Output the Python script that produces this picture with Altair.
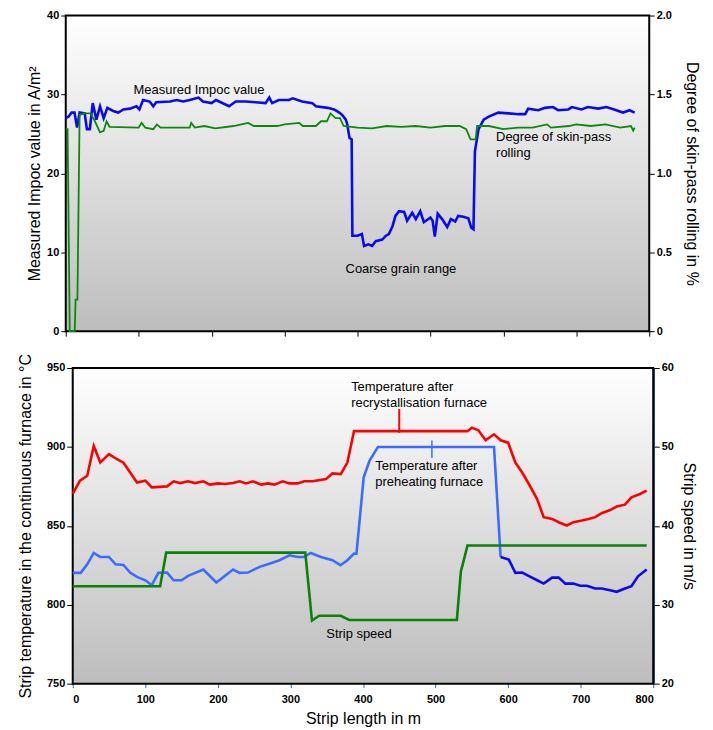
import altair as alt
import pandas as pd

FONT = "Liberation Sans"

# ---------------- top panel data ----------------
impoc_m = [0, 4, 8, 12, 15.5, 19, 26, 29, 33, 37, 42, 47, 52, 57, 65, 72, 79, 88, 97, 101,
           106, 115, 120, 124, 143, 152, 161, 170, 182, 188, 200, 206, 224, 233, 247, 260,
           274, 279, 283, 292, 306, 311, 324, 338, 343, 359, 368, 375, 379, 384, 386, 389,
           392, 393, 400, 406, 409, 415, 420, 425, 434, 439, 443, 448, 452, 457, 464, 468,
           475, 480, 486, 491, 500, 503, 506, 510, 516, 523, 528, 534, 538, 545, 552, 556,
           559, 561, 566, 573, 580, 593, 607, 621, 630, 634, 648, 657, 668, 675, 689, 694,
           707, 716, 730, 741, 752, 764, 773, 780]
impoc_v = [27.0, 27.2, 27.7, 27.7, 25.8, 27.7, 27.6, 25.6, 25.6, 28.9, 26.8, 28.5, 27.0, 28.3,
           27.9, 27.7, 28.1, 28.2, 28.5, 28.1, 29.3, 29.1, 28.5, 29.0, 29.1, 29.3, 29.1, 29.3,
           29.6, 29.1, 28.9, 29.3, 28.5, 29.1, 29.1, 29.0, 28.9, 29.6, 28.9, 29.3, 29.3, 29.5,
           29.1, 28.9, 28.5, 28.3, 28.1, 27.7, 27.4, 26.8, 26.2, 24.5, 24.3, 12.1, 12.1, 12.3,
           10.8, 11.0, 10.8, 11.4, 11.6, 12.1, 12.3, 13.3, 14.6, 15.2, 15.1, 14.0, 15.0, 14.2,
           15.2, 13.8, 14.4, 14.0, 12.0, 14.9, 14.2, 13.2, 14.2, 13.9, 14.6, 14.5, 14.3, 13.1,
           12.9, 22.8, 25.6, 26.8, 27.2, 27.7, 27.6, 27.5, 27.5, 28.2, 28.0, 28.3, 28.4, 28.0,
           28.1, 28.4, 28.1, 28.4, 28.2, 28.4, 28.1, 27.7, 28.0, 27.7]

skin_m = [0, 2.5, 5.5, 12.3, 13.5, 16, 19, 25, 34, 40, 47, 52, 56, 60, 100, 104, 109, 120,
          125, 130, 170, 172, 177, 190, 205, 230, 250, 258, 290, 300, 320, 325, 343, 350,
          358, 363, 370, 376, 381, 400, 420, 440, 460, 480, 500, 520, 540, 549, 555, 562,
          564, 580, 600, 620, 640, 660, 665, 690, 700, 720, 740, 760, 775, 778, 780]
skin_v = [1.28, 1.28, 0.0, 0.0, 0.2, 0.2, 1.37, 1.38, 1.38, 1.33, 1.26, 1.27, 1.33, 1.295,
          1.29, 1.32, 1.29, 1.28, 1.31, 1.29, 1.29, 1.32, 1.29, 1.30, 1.285, 1.30, 1.32, 1.30,
          1.30, 1.31, 1.32, 1.30, 1.30, 1.33, 1.33, 1.38, 1.35, 1.35, 1.30, 1.29, 1.285, 1.30,
          1.295, 1.30, 1.29, 1.30, 1.30, 1.28, 1.215, 1.215, 1.30, 1.30, 1.28, 1.29, 1.29,
          1.31, 1.29, 1.30, 1.31, 1.30, 1.31, 1.29, 1.30, 1.27, 1.29]

# ---------------- bottom panel data ----------------
recr_m = [0, 10, 20, 29, 38, 50, 61, 70, 88.6, 100, 109, 130, 139, 148, 159, 168.5, 180, 189,
          200.5, 209.6, 221, 230, 239, 248.4, 259.8, 269, 278, 289.5, 298.6, 310, 319, 330.6,
          349, 358, 369.4, 378.5, 387.7, 399, 544, 550, 559, 569, 580.6, 589.7, 600, 610,
          619.4, 628.6, 640, 649, 660.6, 669.7, 681, 690, 701.7, 711, 720, 729, 740.6, 749.7,
          761, 770, 781.7, 791]
recr_t = [870.2, 878.6, 881.7, 900.6, 890.1, 895.4, 892.2, 890.0, 877.5, 878.6, 874.4, 875.0,
          878.2, 877.1, 878.2, 877.1, 878.2, 876.1, 876.9, 876.5, 877.1, 878.2, 876.9, 878.2,
          876.1, 876.9, 876.1, 878.2, 876.9, 876.9, 878.2, 878.2, 879.6, 883.2, 882.8, 890.1,
          910.1, 910.0, 910.0, 912.2, 910.5, 904.2, 908.0, 904.2, 902.7, 890.1, 883.8, 876.5,
          867.0, 855.5, 854.4, 852.3, 850.2, 852.3, 853.4, 854.4, 855.5, 858.0, 860.0, 862.2,
          863.4, 868.0, 870.2, 872.3]

pre_m = [0, 11, 20, 29, 38, 50, 59, 70, 79, 88.6, 100, 109, 118, 130, 139, 150, 159, 180, 198,
         221, 230, 241.6, 257.5, 271, 285, 298.6, 310, 319, 328, 342, 358, 369, 378.5, 387.7,
         391, 401, 409, 420.6, 580.6, 589.7]
pre_t = [820.2, 820.2, 825.6, 832.8, 830.3, 830.3, 825.6, 825.2, 820.4, 817.6, 815.5, 812.4,
         820.2, 820.4, 815.5, 815.5, 818.3, 822.3, 814.1, 822.3, 820.2, 820.4, 824.0, 826.0,
         828.2, 831.3, 830.3, 830.3, 832.8, 830.3, 828.2, 825.0, 828.2, 832.4, 832.4, 880.7,
         891.2, 900.0, 900.0, 830.3]

pre2_m = [589.7, 601, 610, 619.4, 630.9, 640, 649, 660.6, 669.7, 678.9, 690, 699.4, 708.6, 720,
          729, 740.6, 749.7, 761, 770, 779, 791]
pre2_t = [830.3, 828.6, 820.2, 820.4, 817.6, 815.5, 813.4, 817.2, 817.2, 813.4, 813.4, 812.0,
          812.0, 810.3, 810.3, 809.2, 808.2, 810.3, 811.8, 818.0, 822.3]

speed_m = [0, 120.5, 128.8, 320.5, 329.7, 339.7, 369.4, 381, 529.4, 534.9, 544, 791]
speed_v = [32.35, 32.35, 36.6, 36.6, 28.0, 28.6, 28.6, 28.07, 28.07, 34.2, 37.5, 37.5]

# ---------------- helpers ----------------
grad = alt.LinearGradient(
    gradient="linear",
    stops=[alt.GradientStop(color="#ffffff", offset=0),
           alt.GradientStop(color="#bdbdbd", offset=1)],
    x1=0, x2=0, y1=0, y2=1,
)
one = pd.DataFrame({"k": [0]})

AX = dict(labelFont=FONT, labelFontSize=11, labelFontWeight="bold", labelColor="black",
          titleFont=FONT, titleFontSize=16, titleFontWeight="normal", titleColor="black",
          tickColor="black", tickWidth=1, grid=False)


def df(m, v):
    return pd.DataFrame({"m": m, "v": v})


def label(txt, xs, ys, x, y, size=13):
    return alt.Chart(one).mark_text(
        text=txt, align="left", baseline="alphabetic", font=FONT, fontSize=size,
        color="black", lineHeight=16,
    ).encode(x=alt.XDatum(x, scale=xs), y=alt.YDatum(y, scale=ys))


# ---------------- top panel ----------------
xs_top = alt.Scale(domain=[0, 800], range=[-7, 579], nice=False, zero=False)
ys_top = alt.Scale(domain=[0, 40], nice=False)
yr_top = alt.Scale(domain=[0, 2], nice=False)

x_top_axis = alt.Axis(values=list(range(0, 801, 100)), labels=False, title=None,
                      domain=False, ticks=True, tickSize=5, **AX)

bg_top = alt.Chart(one).mark_rect(fill=grad, stroke="black", strokeWidth=2).encode(
    x=alt.XDatum(0, scale=xs_top), x2=alt.datum(800),
    y=alt.YDatum(0, scale=ys_top), y2=alt.datum(40),
)
impoc_line = alt.Chart(df(impoc_m, impoc_v)).mark_line(color="#0a0aee", strokeWidth=2.6).encode(
    x=alt.X("m:Q", scale=xs_top, axis=x_top_axis),
    y=alt.Y("v:Q", scale=ys_top,
            axis=alt.Axis(values=[0, 10, 20, 30, 40], orient="left", offset=7, domain=False,
                          tickSize=5, title="Measured Impoc value in A/m²", titlePadding=4,
                          **AX)),
)
top_left = alt.layer(
    bg_top, impoc_line,
    label("Measured Impoc value", xs_top, ys_top, 93, 30.0),
    label("Coarse grain range", xs_top, ys_top, 383.6, 7.4),
    label(["Degree of skin-pass", "rolling"], xs_top, ys_top, 590, 24.1),
)
skin_line = alt.Chart(df(skin_m, skin_v)).mark_line(color="#0a8a0a", strokeWidth=1.8).encode(
    x=alt.X("m:Q", scale=xs_top, axis=x_top_axis),
    y=alt.Y("v:Q", scale=yr_top,
            axis=alt.Axis(values=[0, 0.5, 1, 1.5, 2], orient="right", offset=-4, domain=False,
                          tickSize=5, title="Degree of skin-pass rolling in %", titlePadding=12,
                          labelExpr="datum.value == 0 ? '0' : format(datum.value, '.1f')",
                          **AX)),
)
top = alt.layer(top_left, skin_line).resolve_scale(y="independent").properties(
    width=583, height=317)

# ---------------- bottom panel ----------------
xs_bot = alt.Scale(domain=[0, 800], nice=False, zero=False)
ys_bot = alt.Scale(domain=[750, 950], nice=False, zero=False)
yr_bot = alt.Scale(domain=[20, 60], nice=False, zero=False)

x_bot_axis = alt.Axis(values=list(range(0, 801, 100)), title="Strip length in m", domain=False,
                      tickSize=4, labelPadding=6, titlePadding=6,
                      **{**AX, "tickColor": "#3060e0"})

bg_bot = alt.Chart(one).mark_rect(fill=grad, stroke="black", strokeWidth=2).encode(
    x=alt.XDatum(0, scale=xs_bot), x2=alt.datum(800),
    y=alt.YDatum(750, scale=ys_bot), y2=alt.datum(950),
)
y_bot_axis = alt.Axis(values=[750, 800, 850, 900, 950], orient="left", domain=False, tickSize=6,
                      title="Strip temperature in the continuous furnace in °C", titlePadding=13,
                      **AX)

recr_line = alt.Chart(df(recr_m, recr_t)).mark_line(color="#ff0000", strokeWidth=2.6).encode(
    x=alt.X("m:Q", scale=xs_bot, axis=x_bot_axis),
    y=alt.Y("v:Q", scale=ys_bot, axis=y_bot_axis),
)
pre_line = alt.Chart(df(pre_m, pre_t)).mark_line(color="#3c6cff", strokeWidth=2.6).encode(
    x=alt.X("m:Q", scale=xs_bot), y=alt.Y("v:Q", scale=ys_bot),
)
pre2_line = alt.Chart(df(pre2_m, pre2_t)).mark_line(color="#0a0af0", strokeWidth=2.6).encode(
    x=alt.X("m:Q", scale=xs_bot), y=alt.Y("v:Q", scale=ys_bot),
)
red_ptr = alt.Chart(one).mark_rule(color="#ff0000", strokeWidth=2).encode(
    x=alt.XDatum(450, scale=xs_bot), y=alt.YDatum(924, scale=ys_bot), y2=alt.datum(909),
)
blue_ptr = alt.Chart(one).mark_rule(color="#3c6cff", strokeWidth=1.5).encode(
    x=alt.XDatum(495, scale=xs_bot), y=alt.YDatum(904, scale=ys_bot), y2=alt.datum(893),
)
bot_left = alt.layer(
    bg_bot, recr_line, pre_line, pre2_line, red_ptr, blue_ptr,
    label(["Temperature after", "recrystallisation furnace"], xs_bot, ys_bot, 383.7, 935.3),
    label(["Temperature after", "preheating furnace"], xs_bot, ys_bot, 417, 885.3),
    label("Strip speed", xs_bot, ys_bot, 349.4, 779.2),
)
speed_line = alt.Chart(df(speed_m, speed_v)).mark_line(color="#0a820a", strokeWidth=2.6).encode(
    x=alt.X("m:Q", scale=xs_bot, axis=x_bot_axis),
    y=alt.Y("v:Q", scale=yr_bot,
            axis=alt.Axis(values=[20, 30, 40, 50, 60], orient="right", domain=True,
                          domainColor="#2f50a8", domainWidth=2.5, tickSize=6,
                          title="Strip speed in m/s", titlePadding=7, **AX)),
)
bottom = alt.layer(bot_left, speed_line).resolve_scale(y="independent").properties(
    width=583, height=317)

chart = alt.vconcat(top, bottom, spacing=16).properties(
    padding={"left": 9, "top": 0, "right": 5, "bottom": 5},
    background="white",
).configure_view(stroke=None, fill=None)

chart.save("out.html", embed_options={"renderer": "svg", "actions": False})
